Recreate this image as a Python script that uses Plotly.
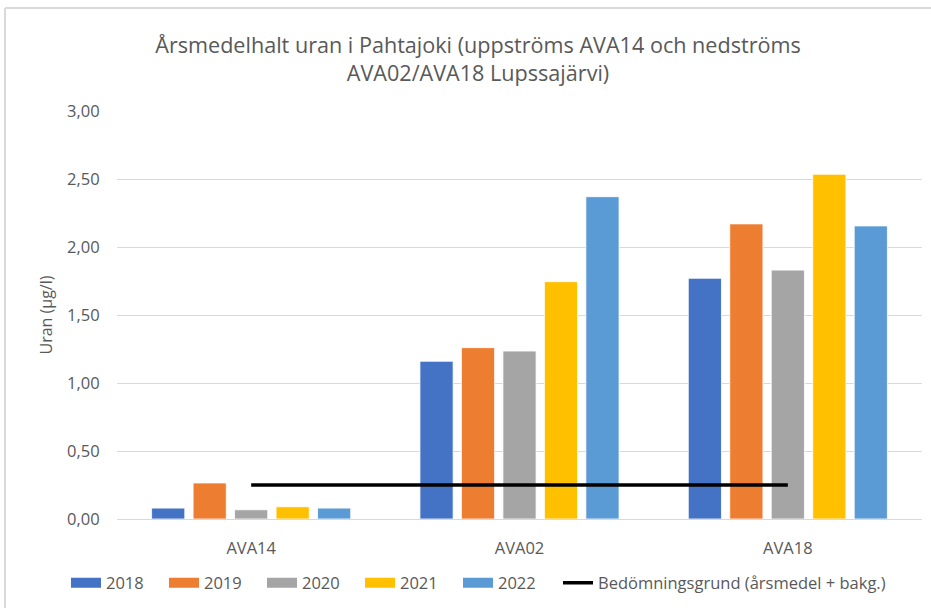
import plotly.graph_objects as go

categories = ["AVA14", "AVA02", "AVA18"]
years = ["2018", "2019", "2020", "2021", "2022"]
values_2018 = [0.08, 1.16, 1.77]
values_2019 = [0.265, 1.26, 2.17]
values_2020 = [0.068, 1.235, 1.83]
values_2021 = [0.09, 1.745, 2.535]
values_2022 = [0.08, 2.37, 2.155]
threshold = [0.25, 0.25, 0.25]
threshold_name = "Bedömningsgrund (årsmedel + bakg.)"
y_ticks = [0, 0.5, 1.0, 1.5, 2.0, 2.5, 3.0]
y_tick_labels = ["0,00", "0,50", "1,00", "1,50", "2,00", "2,50", "3,00"]

series = [values_2018, values_2019, values_2020, values_2021, values_2022]
colors = ["#4472C4", "#ED7D31", "#A5A5A5", "#FFC000", "#5B9BD5"]

FONT = "Open Sans, Lato, sans-serif"
TXT = "#595959"

fig = go.Figure()
for name, vals, col in zip(years, series, colors):
    fig.add_trace(go.Bar(x=categories, y=vals, name=name, showlegend=False,
                         marker=dict(color=col, line=dict(color="white", width=0.8))))
# legend entries with wide rectangular swatches (as in the original chart)
for name, col in zip(years, colors):
    fig.add_trace(go.Scatter(x=[None], y=[None], name=name, mode="lines",
                             line=dict(color=col, width=10), legend="legend"))
fig.add_trace(go.Scatter(x=categories, y=threshold, name=threshold_name, mode="lines",
                         line=dict(color="black", width=3.5), legend="legend2"))

fig.update_layout(
    width=931, height=608,
    margin=dict(l=117, r=9, t=111, b=89),
    paper_bgcolor="white", plot_bgcolor="white",
    barmode="group", bargap=0.227, bargroupgap=0.2,
    font=dict(family=FONT, color=TXT, size=16.5),
    title=dict(text="Årsmedelhalt uran i Pahtajoki (uppströms AVA14 och nedströms<br>AVA02/AVA18 Lupssajärvi)",
               x=478/931, xanchor="center", xref="container",
               y=1-53/608, yanchor="top", yref="container",
               font=dict(family=FONT, size=21.6, color=TXT)),
    legend=dict(orientation="h", x=(72-6)/931, xanchor="left", xref="container",
                y=1-583/608, yanchor="middle", yref="container",
                entrywidth=53, entrywidthmode="pixels",
                font=dict(size=16.5, color=TXT), traceorder="normal"),
    legend2=dict(orientation="h", x=(564-6)/931, xanchor="left", xref="container",
                 y=1-583/608, yanchor="middle", yref="container",
                 font=dict(size=16.5, color=TXT)),
    showlegend=True,
)
fig.update_yaxes(range=[0, 3.0], tickvals=y_ticks, ticktext=y_tick_labels,
                 showgrid=True, gridcolor="#D9D9D9", gridwidth=1.3,
                 zeroline=False, showline=False, automargin=False,
                 ticks="outside", ticklen=13, tickcolor="rgba(0,0,0,0)",
                 title=dict(text="Uran (µg/l)", standoff=10, font=dict(size=16, color=TXT)))
fig.update_xaxes(showline=True, linecolor="#D9D9D9", linewidth=1.3, automargin=False,
                 ticks="outside", ticklen=14, tickcolor="rgba(0,0,0,0)",
                 showgrid=False)

# outer chart border (left and top visible)
fig.add_shape(type="line", xref="paper", yref="paper",
              x0=(5-117)/805, x1=(931-117)/805 + 0.05, y0=(519-8)/408, y1=(519-8)/408,
              line=dict(color="#D9D9D9", width=2))
fig.add_shape(type="line", xref="paper", yref="paper",
              x0=(5-117)/805, x1=(5-117)/805, y0=(519-8)/408, y1=(519-620)/408,
              line=dict(color="#D9D9D9", width=2))

fig.write_html("out.html", config={"displayModeBar": False},
               post_script="document.body.style.margin='0';")
